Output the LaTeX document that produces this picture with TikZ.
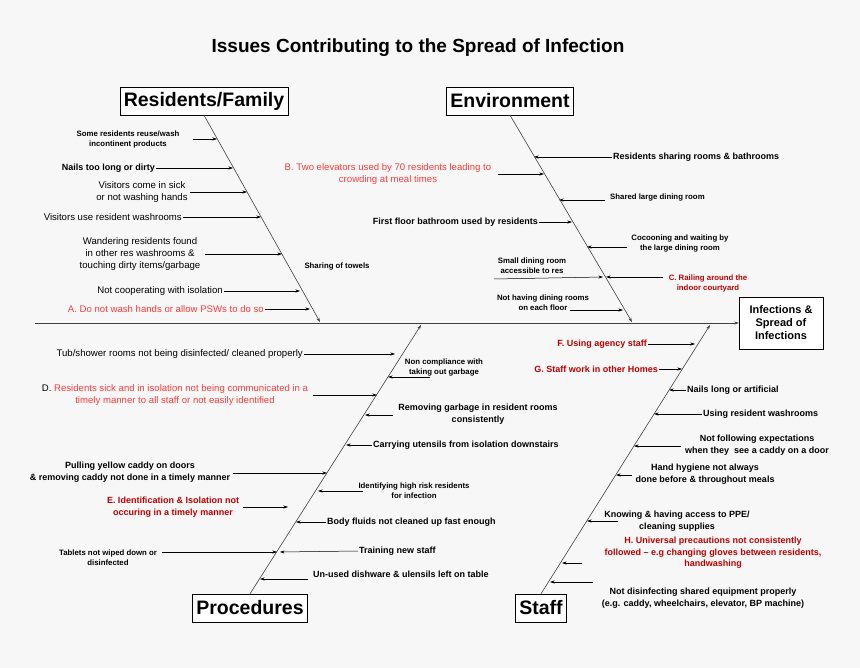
\documentclass[tikz,border=0pt]{standalone}
\usepackage{fontspec}
\setmainfont{Liberation Sans}
\usetikzlibrary{arrows.meta,positioning}
\definecolor{bgrey}{HTML}{F7F7F7}
\definecolor{lightred}{HTML}{FF3B3B}
\definecolor{darkred}{HTML}{C00000}
\begin{document}
\begin{tikzpicture}[x=1pt,y=-1pt,>={Stealth[length=4.5pt,width=3pt]}]
  % Styles
  \tikzstyle{head}=[draw,fill=white,inner xsep=4pt,minimum height=28pt,font=\bfseries\fontsize{19.5}{21}\selectfont]
  \tikzstyle{effect}=[draw,fill=white,align=center,minimum width=84pt,minimum height=52pt,inner sep=1pt,font=\bfseries\fontsize{11}{13}\selectfont]
  \tikzstyle{bone}=[draw=black!75,line width=0.6pt]
  \tikzstyle{cause}=[inner sep=1pt,align=center,font=\fontsize{9.6}{12}\selectfont]
  \tikzstyle{bcause}=[inner sep=1pt,align=center,font=\bfseries\fontsize{9}{11.5}\selectfont]
  \tikzstyle{scause}=[inner sep=1pt,align=center,font=\bfseries\fontsize{7.8}{10}\selectfont]
  \tikzstyle{arr}=[->,line width=0.5pt]

  % Background
  \fill[bgrey] (0,0) rectangle (860,668);
  \node[font=\bfseries\fontsize{19}{21}\selectfont] (title) at (418,48)
    {Issues Contributing to the Spread of Infection};

  % Heads and effect
  \node[head] (res) at (204,101) {Residents/Family};
  \node[head] (env) at (510,101) {Environment};
  \node[head] (proc) at (250,608) {Procedures};
  \node[head] (staff) at (541,608) {Staff};
  \node[effect] (inf) at (781,323) {Infections \&\\Spread of\\Infections};

  % Spine and bones
  \coordinate (spine) at (35,323);
  \draw[bone,->] (spine) -- (inf.west);
  \draw[bone,->] (res.south) -- (320,322);
  \draw[bone,->] (env.south) -- (632,322);
  \draw[bone,->] (proc.north) -- (421,325);
  \draw[bone,->] (staff.north) -- (710,325);

  % Residents/Family
  \node[scause] (r1) at (128,139) {Some residents reuse/wash\\incontinent products};
  \draw[arr] (193,139) -- (217,139);
  \node[bcause,anchor=east] (r2) at (156,168) {Nails too long or dirty};
  \draw[arr] (r2.east) -- (233,168);
  \node[cause] (r3) at (142,192) {Visitors come in sick\\or not washing hands};
  \draw[arr] (190,192) -- (247,192);
  \node[cause,anchor=east] (r4) at (183,217) {Visitors use resident washrooms};
  \draw[arr] (r4.east) -- (261,217);
  \node[cause] (r5) at (140,254) {Wandering residents found\\in other res washrooms \&\\touching dirty items/garbage};
  \draw[arr] (205,254) -- (282,254);
  \node[cause,anchor=east] (r6) at (224,291) {Not cooperating with isolation};
  \draw[arr] (r6.east) -- (300,291);
  \node[cause,anchor=east,text=lightred] (r7) at (265,309) {A. Do not wash hands or allow PSWs to do so};
  \draw[arr] (r7.east) -- (310,309);
  \node[scause] (r8) at (337,267) {Sharing of towels};

  % Environment
  \node[cause,text=lightred] (e1) at (388,174) {B. Two elevators used by 70 residents leading to\\crowding at meal times};
  \draw[arr] (498,174) -- (544,174);
  \node[bcause,anchor=east] (e2) at (539,222) {First floor bathroom used by residents};
  \draw[arr] (e2.east) -- (572,222);
  \node[scause] (e3) at (532,266) {Small dining room\\accessible to res};
  \draw[arr] (494,279) -- (603,277);
  \node[scause] (e4) at (543,303) {Not having dining rooms\\on each floor};
  \draw[arr] (570,310) -- (623,310);
  \node[bcause,anchor=west] (e5) at (612,157) {Residents sharing rooms \& bathrooms};
  \draw[arr] (e5.west) -- (534,157);
  \node[scause,anchor=west] (e6) at (609,198) {Shared large dining room};
  \draw[arr] (605,200) -- (559,200);
  \node[scause] (e7) at (680,244) {Cocooning and waiting by\\the large dining room};
  \draw[arr] (627,247) -- (587,247);
  \node[scause,text=darkred] (e8) at (708,283) {C. Railing around the\\indoor courtyard};
  \draw[arr] (663,277) -- (606,277);

  % Procedures
  \node[cause,anchor=east] (p1) at (304,354) {Tub/shower rooms not being disinfected/ cleaned properly};
  \draw[arr] (p1.east) -- (395,354);
  \node[cause] (p2) at (175,395) {D. \textcolor{lightred}{Residents sick and in isolation not being communicated in a}\\\textcolor{lightred}{timely manner to all staff or not easily identified}};
  \draw[arr] (313,395) -- (377,395);
  \node[bcause] (p3) at (130,472) {Pulling yellow caddy on doors\\\& removing caddy not done in a timely manner};
  \draw[arr] (233,473) -- (327,473);
  \node[bcause,text=darkred] (p4) at (173,507) {E. Identification \& Isolation not\\occuring in a timely manner};
  \draw[arr] (243,507) -- (288,507);
  \node[scause] (p5) at (108,558) {Tablets not wiped down or\\disinfected};
  \draw[arr] (162,552) -- (277,552);
  \node[scause] (p6) at (444,368) {Non compliance with\\taking out garbage};
  \draw[arr] (430,377) -- (388,377);
  \node[bcause] (p7) at (478,414) {Removing garbage in resident rooms\\consistently};
  \draw[arr] (393,415) -- (365,415);
  \node[bcause,anchor=west] (p8) at (372,445) {Carrying utensils from isolation downstairs};
  \draw[arr] (p8.west) -- (346,445);
  \node[scause] (p9) at (414,491) {Identifying high risk residents\\for infection};
  \draw[arr] (363,491) -- (318,491);
  \node[bcause,anchor=west] (p10) at (326,522) {Body fluids not cleaned up fast enough};
  \draw[arr] (p10.west) -- (296,522);
  \node[bcause,anchor=west] (p11) at (358,551) {Training new staff};
  \draw[arr] (p11.west) -- (280,552);
  \node[bcause,anchor=west] (p12) at (312,574) {Un-used dishware \& ulensils left on table};
  \draw[arr] (308,579) -- (260,579);

  % Staff
  \node[bcause,anchor=east,text=darkred] (s1) at (648,344) {F. Using agency staff};
  \draw[arr] (s1.east) -- (695,344);
  \node[bcause,anchor=east,text=darkred] (s2) at (659,369) {G. Staff work in other Homes};
  \draw[arr] (s2.east) -- (682,369);
  \node[bcause,anchor=west] (s3) at (686,390) {Nails long or artificial};
  \draw[arr] (s3.west) -- (669,390);
  \node[bcause,anchor=west] (s4) at (702,414) {Using resident washrooms};
  \draw[arr] (s4.west) -- (654,414);
  \node[bcause] (s5) at (757,445) {Not following expectations\\when they\ \ see a caddy on a door};
  \draw[arr] (681,446) -- (634,446);
  \node[bcause] (s6) at (705,474) {Hand hygiene not always\\done before \& throughout meals};
  \draw[arr] (632,475) -- (616,475);
  \node[bcause] (s7) at (677,521) {Knowing \& having access to PPE/\\cleaning supplies};
  \draw[arr] (618,521) -- (587,521);
  \node[bcause,text=darkred] (s8) at (713,553) {H. Universal precautions not consistently\\followed -- e.g changing gloves between residents,\\handwashing};
  \draw[arr] (582,563) -- (562,563);
  \node[bcause] (s9) at (703,598) {Not disinfecting shared equipment properly\\(e.g. caddy, wheelchairs, elevator, BP machine)};
  \draw[arr] (593,582) -- (550,582);
\end{tikzpicture}
\end{document}
